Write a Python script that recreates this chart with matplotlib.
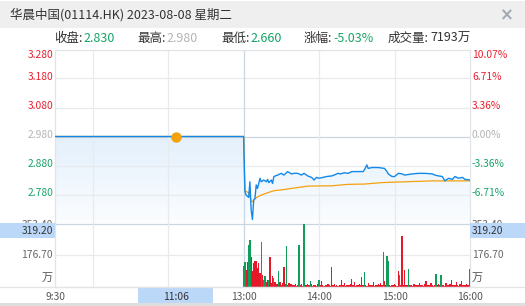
import numpy as np
import matplotlib
matplotlib.use("Agg")
import matplotlib.pyplot as plt
from matplotlib.patches import Rectangle, Polygon
from matplotlib.colors import LinearSegmentedColormap
import matplotlib.transforms as mtrans

plt.rcParams['font.family'] = ['Noto Sans CJK SC', 'DejaVu Sans']

# ---------------- data ----------------
title = "华晨中国(01114.HK) 2023-08-08 星期二"
stat_labels = ["收盘:", "最高:", "最低:", "涨幅:", "成交量:"]
stat_values = ["2.830", "2.980", "2.660", "-5.03%", "7193万"]
stat_value_kind = ["down", "flat", "down", "down", "none"]

prev_close = 2.98
morning_price = 2.98
morning_avg = 2.98
price_ticks = [3.28, 3.18, 3.08, 2.98, 2.88, 2.78]
pct_labels = ["10.07%", "6.71%", "3.36%", "0.00%", "-3.36%", "-6.71%"]
vol_ticks = [353.40, 176.70]
vol_unit = "万"
cursor_time = "11:06"
cursor_vol = "319.20"
time_labels = ["9:30", "13:00", "14:00", "15:00", "16:00"]
grid_times = ["10:00", "11:00", "14:00", "15:00"]

# afternoon price (minutes after 13:00, price)
pm_minutes = [0, 1, 2, 4, 5, 6, 7, 8, 9, 10, 11, 13, 14, 16, 18, 19, 20, 22, 23, 24,
              27, 30, 32, 35, 38, 40, 43, 46, 48, 51, 54, 56, 58, 60, 63, 66, 70, 72,
              75, 77, 80, 83, 86, 91, 95, 96, 98, 99, 102, 107, 112, 114, 115, 118,
              120, 123, 126, 128, 134, 139, 144, 150, 152, 155, 158, 160, 163, 166,
              168, 171, 174, 176, 180]
pm_prices = [2.980, 2.790, 2.778, 2.770, 2.824, 2.726, 2.694, 2.761, 2.767, 2.813,
             2.801, 2.836, 2.824, 2.830, 2.824, 2.832, 2.821, 2.830, 2.818, 2.842,
             2.847, 2.853, 2.847, 2.859, 2.851, 2.853, 2.853, 2.847, 2.853, 2.844,
             2.839, 2.830, 2.839, 2.836, 2.839, 2.842, 2.844, 2.847, 2.853, 2.851,
             2.855, 2.853, 2.859, 2.859, 2.859, 2.865, 2.882, 2.870, 2.873, 2.873,
             2.870, 2.859, 2.851, 2.842, 2.842, 2.853, 2.851, 2.847, 2.851, 2.853,
             2.853, 2.851, 2.847, 2.844, 2.842, 2.827, 2.836, 2.832, 2.842, 2.836,
             2.839, 2.832, 2.830]

avg_minutes = [0, 1, 4, 6, 7, 10, 14, 19, 24, 32, 38, 51, 70, 83, 96, 110, 123, 150, 180]
avg_prices = [2.980, 2.793, 2.786, 2.758, 2.755, 2.769, 2.778, 2.786, 2.793, 2.797,
              2.801, 2.809, 2.810, 2.815, 2.816, 2.821, 2.823, 2.827, 2.827]

# afternoon per-minute volume (万), 13:00 .. 16:00
pm_volume = [115, 138, 97, 138, 231, 264, 166, 90, 134, 143,
             143, 106, 134, 78, 249, 69, 41, 60, 30, 41,
             37, 166, 25, 60, 50, 26, 18, 15, 87, 26,
             12, 20, 112, 15, 227, 10, 22, 14, 19, 12,
             10, 15, 8, 12, 232, 10, 14, 6, 350, 12,
             9, 14, 10, 32, 18, 8, 12, 10, 6, 15,
             37, 12, 32, 10, 8, 12, 9, 14, 10, 8,
             112, 10, 19, 8, 12, 6, 10, 9, 37, 12,
             22, 8, 10, 12, 9, 14, 45, 10, 26, 8,
             12, 10, 15, 9, 54, 12, 82, 10, 8, 22,
             12, 10, 9, 26, 8, 12, 10, 14, 9, 22,
             10, 197, 32, 12, 171, 147, 10, 8, 12, 9,
             14, 10, 8, 87, 69, 12, 283, 10, 97, 12,
             9, 100, 12, 10, 8, 14, 19, 10, 12, 9,
             22, 10, 12, 8, 14, 32, 10, 9, 12, 22,
             10, 8, 12, 74, 10, 14, 9, 65, 12, 10,
             8, 22, 12, 10, 14, 41, 9, 12, 10, 26,
             12, 8, 14, 32, 10, 9, 12, 14, 10, 12,
             102]
pm_direction = ("ggrrggrrrr" "rrrrgrggrr" "grrrgrrrgr" "rrrrgrrrrr" "rrrrgrrrgr"
                "rrrgrrrrrr" "grrrrrrrrr" "rrrrrrrrrr" "rrrrrrrrrr" "rrrrrrgrrr"
                "rrrrrrrrrr" "rgrrggrrrr" "rrrrgrrrrr" "rgrrrrrrrr" "rrrrrrrrrr"
                "rrrgrrrgrr" "rrrrrrrrrr" "rrrrrrrrrr" "r")

# ---------------- styling ----------------
RED = '#e8202e'
GREEN = '#15a467'
GRAY_LBL = '#b4b4b4'
BLUE = '#1289ea'
ORANGE = '#f5a10c'
GRID = '#e8ebee'
SEP = '#c9d5e1'
BAR_RED = '#e5182a'
BAR_GREEN = '#0f9d5a'
HILITE = '#bcd8f9'

W, H = 525, 306
fig = plt.figure(figsize=(W / 100, H / 100), dpi=100)
fig.patch.set_facecolor('white')


def fx(px):
    return px / W


def fy(py):
    return 1 - py / H


def tidx(t):
    h, m = map(int, t.split(':'))
    mins = h * 60 + m
    if mins <= 12 * 60:
        return mins - (9 * 60 + 30)
    return 150 + mins - 13 * 60


L, R = 55, 470
P_TOP, P_BOT = 49.5, 223.5
V_TOP, V_BOT = 223.5, 287

# background bands
fig.add_artist(Rectangle((0, fy(28)), 1, 28 / H - 1.5 / H, transform=fig.transFigure,
                         facecolor='#efefef', edgecolor='none', zorder=0))
fig.add_artist(Rectangle((0, 0), 1, 3 / H, transform=fig.transFigure,
                         facecolor='#dedede', edgecolor='none', zorder=0))

ax = fig.add_axes([fx(L), fy(P_BOT), (R - L) / W, (P_BOT - P_TOP) / H])
axv = fig.add_axes([fx(L), fy(V_BOT), (R - L) / W, (V_BOT - V_TOP) / H])

x_end = tidx("16:00")
x_pm0 = tidx("13:00")
ytop = price_ticks[0]
ybot = 2 * prev_close - ytop

# price series
x_price = np.concatenate([[0], x_pm0 + np.array(pm_minutes, dtype=float)])
y_price = np.concatenate([[morning_price], pm_prices])
x_avg = np.concatenate([[0], x_pm0 + np.array(avg_minutes, dtype=float)])
y_avg = np.concatenate([[morning_avg], avg_prices])

# gradient fill under price line
verts = list(zip(x_price, y_price)) + [(x_end, ybot), (0, ybot)]
poly = Polygon(verts, closed=True, transform=ax.transData, facecolor='none', edgecolor='none')
ax.add_patch(poly)
cmap = LinearSegmentedColormap.from_list('f', ['#e4f0fc', '#fbfdff'])
grad = np.linspace(0, 1, 256).reshape(-1, 1)
im = ax.imshow(grad, extent=[0, x_end, ybot, prev_close], aspect='auto', cmap=cmap,
               origin='upper', zorder=0.5, interpolation='bilinear')
im.set_clip_path(poly)

# grid lines price
for v in price_ticks[1:]:
    if abs(v - prev_close) < 1e-9:
        ax.axhline(v, color=SEP, lw=0.9, zorder=1)
    else:
        ax.axhline(v, color=GRID, lw=0.9, zorder=1)
for t in grid_times:
    ax.axvline(tidx(t), color=GRID, lw=0.9, zorder=1)
    axv.axvline(tidx(t), color=GRID, lw=0.9, zorder=1)
ax.axvline(x_pm0, color=SEP, lw=0.9, zorder=1)
axv.axvline(x_pm0, color=SEP, lw=0.9, zorder=1)
axv.axhline(vol_ticks[1], color=GRID, lw=0.9, zorder=1)

ax.plot(x_avg, y_avg, color=ORANGE, lw=0.9, zorder=3)
ax.plot(x_price, y_price, color=BLUE, lw=1.0, zorder=4)
ax.plot([tidx(cursor_time)], [morning_avg], 'o', color=ORANGE, ms=6.5, mec=ORANGE, zorder=5)

ax.set_xlim(0, x_end)
ax.set_ylim(ybot, ytop)

# volume bars
xv = x_pm0 + np.arange(len(pm_volume))
cols = [BAR_RED if c == 'r' else BAR_GREEN for c in pm_direction]
axv.bar(xv, pm_volume, width=1.0, color=cols, linewidth=0, zorder=2)
axv.set_xlim(0, x_end)
axv.set_ylim(0, vol_ticks[0])

for a in (ax, axv):
    a.set_xticks([])
    a.set_yticks([])
    a.set_facecolor('none')
    for s in a.spines.values():
        s.set_color('#e2e5e8')
        s.set_linewidth(0.9)
ax.spines['bottom'].set_color(SEP)
axv.spines['top'].set_visible(False)

# full-width line at volume bottom
fig.add_artist(plt.Line2D([0, 1], [fy(V_BOT), fy(V_BOT)], transform=fig.transFigure,
                          color='#e4e4e4', lw=0.9))

# ---------------- text ----------------
fig.text(fx(10), fy(15), title, fontsize=9, color='#333333', va='center', ha='left')
fig.text(fx(507), fy(15), "×", fontsize=12, color='#a0a8b2', va='center', ha='center',
         fontweight='bold', family=['DejaVu Sans'])

label_x = [54, 137, 221, 304, 388]
value_x = [83, 166, 250, 333, 430]
kind_col = {"down": GREEN, "up": RED, "flat": GRAY_LBL, "none": '#333333'}
for lx, vx, lab, val, k in zip(label_x, value_x, stat_labels, stat_values, stat_value_kind):
    fig.text(fx(lx), fy(38.5), lab, fontsize=9, color='#333333', va='center', ha='left')
    fig.text(fx(vx), fy(38.5), val, fontsize=9, color=kind_col[k], va='center', ha='left')

FS = 7.4
blend_p = mtrans.blended_transform_factory(fig.transFigure, ax.transData)
for v, pl in zip(price_ticks, pct_labels):
    if v > prev_close + 1e-9:
        c = RED
    elif v < prev_close - 1e-9:
        c = GREEN
    else:
        c = GRAY_LBL
    dy = -5 if v == ytop else 1.2
    ax.annotate(f"{v:.3f}", xy=(fx(53), v), xycoords=blend_p, xytext=(0, dy * 0.72),
                textcoords='offset points', ha='right', va='center', fontsize=FS, color=c)
    ax.annotate(pl, xy=(fx(472), v), xycoords=blend_p, xytext=(0, dy * 0.72),
                textcoords='offset points', ha='left', va='center', fontsize=FS, color=c)

blend_v = mtrans.blended_transform_factory(fig.transFigure, axv.transData)
for v in vol_ticks:
    dy = -2 if v == vol_ticks[0] else 0
    for xx, ha in ((53, 'right'), (472, 'left')):
        axv.annotate(f"{v:.2f}", xy=(fx(xx), v), xycoords=blend_v, xytext=(0, dy * 0.72),
                     textcoords='offset points', ha=ha, va='center', fontsize=FS,
                     color='#666666')
fig.text(fx(53), fy(278), vol_unit, fontsize=8, color='#555555', ha='right', va='center')
fig.text(fx(472), fy(278), vol_unit, fontsize=8, color='#555555', ha='left', va='center')

# cursor volume boxes (cover the top volume label, as in the original)
for x0, x1, ha, tx in ((0, L, 'right', 53), (R, W, 'left', 472)):
    fig.add_artist(Rectangle((fx(x0), fy(238)), (x1 - x0) / W, 15 / H,
                             transform=fig.transFigure, facecolor=HILITE,
                             edgecolor='none', zorder=5))
    fig.text(fx(tx), fy(231), cursor_vol, fontsize=FS, color='#333333', ha=ha,
             va='center', zorder=6)

# time labels
blend_t = mtrans.blended_transform_factory(axv.transData, fig.transFigure)
for t in time_labels:
    axv.text(tidx(t), fy(297), t, transform=blend_t, ha='center', va='center',
             fontsize=FS, color='#555555', clip_on=False)
cx = tidx(cursor_time)
axv.add_artist(Rectangle((cx - 30, fy(303)), 60, 16 / H, transform=blend_t,
                         facecolor=HILITE, edgecolor='none', clip_on=False, zorder=5))
axv.text(cx, fy(297), cursor_time, transform=blend_t, ha='center', va='center',
         fontsize=FS, color='#333333', clip_on=False, zorder=6)

fig.savefig("out.png", dpi=100, facecolor='white')
